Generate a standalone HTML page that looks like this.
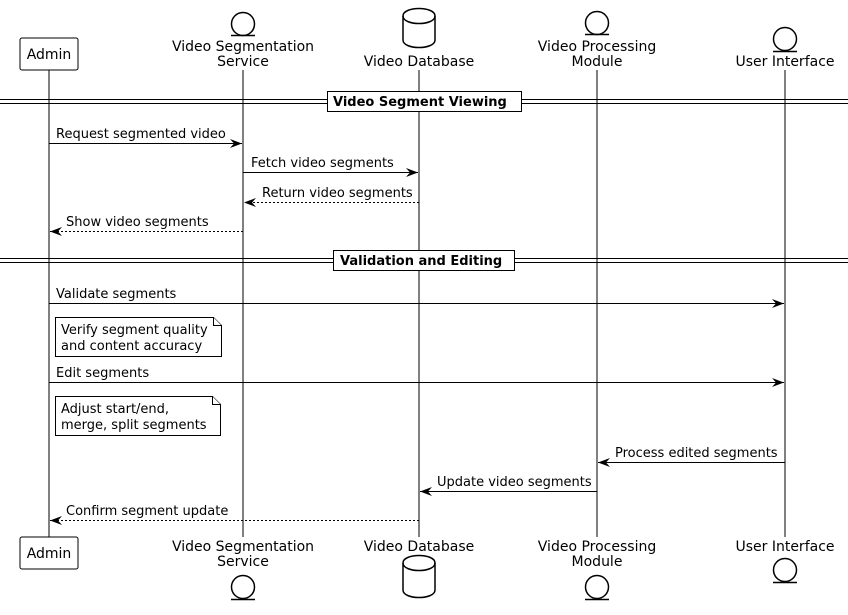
<!DOCTYPE html>
<html><head><meta charset="utf-8"><style>
body{margin:0;background:#fff}
svg{display:block;font-family:"DejaVu Sans","Liberation Sans",sans-serif;font-size:13px}
.p{font-size:14px}
</style></head><body>
<svg width="848" height="615" viewBox="0 0 848 615" xmlns="http://www.w3.org/2000/svg">
<defs>
<marker id="a" markerWidth="13" markerHeight="12" refX="12" refY="6" orient="auto" markerUnits="userSpaceOnUse">
<path d="M0,1.5 L12,6 L0,10.5 L4,6 Z" fill="#000"/>
</marker>
</defs>
<g stroke="#000" stroke-width="1" fill="none">
<line x1="49" y1="70" x2="49" y2="537"/>
<line x1="243" y1="70" x2="243" y2="537"/>
<line x1="419" y1="70" x2="419" y2="537"/>
<line x1="597" y1="70" x2="597" y2="537"/>
<line x1="785" y1="70" x2="785" y2="537"/>
</g>
<!-- top participants -->
<rect x="20" y="38" width="58" height="32" rx="2" fill="#fff" stroke="#000"/>
<text class="p" x="49" y="59" text-anchor="middle">Admin</text>
<g fill="#fff" stroke="#000" stroke-width="1.5">
<circle cx="243" cy="24" r="11.5"/><line x1="231" y1="35.5" x2="255" y2="35.5"/>
<circle cx="597" cy="23" r="11.5"/><line x1="585" y1="34.5" x2="609" y2="34.5"/>
<circle cx="785" cy="39" r="11.5"/><line x1="773" y1="51.5" x2="797" y2="51.5"/>
<path d="M403,16 C403,6 435,6 435,16 L435,40 C435,50 403,50 403,40 Z"/>
<path d="M403,16 C403,26 435,26 435,16" fill="none"/>
</g>
<g text-anchor="middle" class="p">
<text x="243" y="51">Video Segmentation</text><text x="243" y="66">Service</text>
<text x="419" y="66">Video Database</text>
<text x="597" y="51">Video Processing</text><text x="597" y="66">Module</text>
<text x="785" y="66">User Interface</text>
</g>
<!-- bottom participants -->
<rect x="20" y="537" width="58" height="32" rx="2" fill="#fff" stroke="#000"/>
<text class="p" x="49" y="558" text-anchor="middle">Admin</text>
<g text-anchor="middle" class="p">
<text x="243" y="551">Video Segmentation</text><text x="243" y="566">Service</text>
<text x="419" y="551">Video Database</text>
<text x="597" y="551">Video Processing</text><text x="597" y="566">Module</text>
<text x="785" y="551">User Interface</text>
</g>
<g fill="#fff" stroke="#000" stroke-width="1.5">
<circle cx="243" cy="587" r="11.5"/><line x1="231" y1="599.5" x2="255" y2="599.5"/>
<circle cx="597" cy="587" r="11.5"/><line x1="585" y1="599.5" x2="609" y2="599.5"/>
<circle cx="785" cy="570" r="11.5"/><line x1="773" y1="582.5" x2="797" y2="582.5"/>
<path d="M403,563 C403,553 435,553 435,563 L435,590 C435,600 403,600 403,590 Z"/>
<path d="M403,563 C403,573 435,573 435,563" fill="none"/>
</g>
<!-- dividers -->
<g stroke="#000" stroke-width="1">
<line x1="0" y1="99.5" x2="848" y2="99.5"/><line x1="0" y1="103.5" x2="848" y2="103.5"/>
<line x1="0" y1="258.5" x2="848" y2="258.5"/><line x1="0" y1="262.5" x2="848" y2="262.5"/>
</g>
<rect x="327.5" y="91.5" width="194" height="20" fill="#fff" stroke="#000"/>
<text x="333" y="106" font-weight="bold">Video Segment Viewing</text>
<rect x="333.5" y="250.5" width="181" height="20" fill="#fff" stroke="#000"/>
<text x="340" y="265" font-weight="bold">Validation and Editing</text>
<!-- messages -->
<g stroke="#000" stroke-width="1" marker-end="url(#a)">
<line x1="49" y1="143.5" x2="242" y2="143.5"/>
<line x1="243" y1="172.5" x2="418" y2="172.5"/>
<line x1="419" y1="202.5" x2="244" y2="202.5" stroke-dasharray="2,2"/>
<line x1="243" y1="231.5" x2="50" y2="231.5" stroke-dasharray="2,2"/>
<line x1="49" y1="303.5" x2="784" y2="303.5"/>
<line x1="49" y1="382.5" x2="784" y2="382.5"/>
<line x1="785" y1="462.5" x2="598" y2="462.5"/>
<line x1="597" y1="491.5" x2="420" y2="491.5"/>
<line x1="419" y1="520.5" x2="50" y2="520.5" stroke-dasharray="2,2"/>
</g>
<text x="56" y="138">Request segmented video</text>
<text x="251" y="167">Fetch video segments</text>
<text x="262" y="197">Return video segments</text>
<text x="66" y="226">Show video segments</text>
<text x="56" y="298">Validate segments</text>
<text x="56" y="377">Edit segments</text>
<text x="615" y="457">Process edited segments</text>
<text x="437" y="486">Update video segments</text>
<text x="66" y="515">Confirm segment update</text>
<!-- notes -->
<g fill="#fff" stroke="#000" stroke-width="1">
<path d="M55.5,317.5 H213.5 L221.5,325.5 V356.5 H55.5 Z"/>
<path d="M213.5,317.5 V325.5 H221.5"/>
<path d="M55.5,396.5 H212.5 L220.5,404.5 V435.5 H55.5 Z"/>
<path d="M212.5,396.5 V404.5 H220.5"/>
</g>
<text x="61" y="334">Verify segment quality</text>
<text x="61" y="350">and content accuracy</text>
<text x="61" y="413">Adjust start/end,</text>
<text x="61" y="429">merge, split segments</text>
</svg>
</body></html>
